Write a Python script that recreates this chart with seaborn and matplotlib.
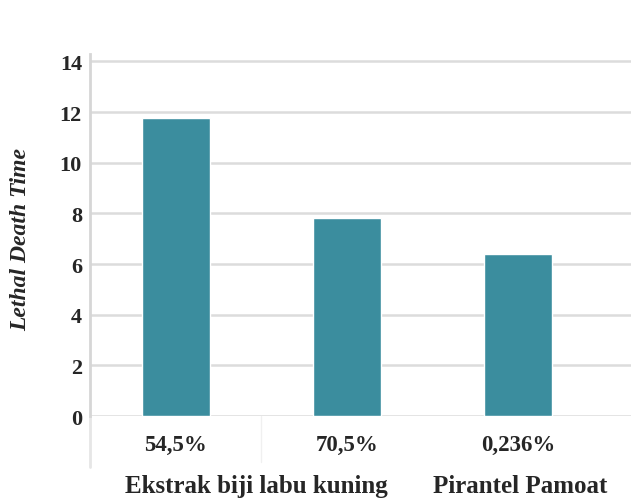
import pandas as pd
import matplotlib.pyplot as plt
import seaborn as sns

# Data
konsentrasi = ['54,5%', '70,5%', '0,236%']
ldt = [11.75, 7.8, 6.4]
kelompok = ['Ekstrak biji labu kuning', 'Pirantel Pamoat']

df = pd.DataFrame({'konsentrasi': konsentrasi, 'ldt': ldt})

sns.set_style('white')
plt.rcParams['font.family'] = ['Liberation Serif', 'DejaVu Serif']

fig = plt.figure(figsize=(6.31, 5.02), dpi=100)
ax = fig.add_axes([0.143, 0.169, 0.857, 0.722])

sns.barplot(data=df, x='konsentrasi', y='ldt', color='#3b8d9e', width=0.4,
            saturation=1, ax=ax, zorder=3)

ax.set_ylim(0, 14.3)
ax.set_xlim(-0.5, 2.66)
ax.set_yticks(range(0, 15, 2))
ax.grid(axis='y', color='#dcdcdc', linewidth=1.8, zorder=0)
ax.grid(axis='x', visible=False)

for s in ['top', 'right', 'bottom']:
    ax.spines[s].set_visible(False)
ax.spines['left'].set_color('#d6d6d6')
ax.spines['left'].set_linewidth(2)

ax.tick_params(axis='both', length=0)
ax.tick_params(axis='y', pad=6, labelsize=16)
ax.tick_params(axis='x', pad=13, labelsize=16.5)
for lbl in ax.get_xticklabels() + ax.get_yticklabels():
    lbl.set_fontweight('bold')

ax.set_xlabel('')
ax.set_ylabel('Lethal Death Time', fontsize=17, fontweight='bold', style='italic')
ax.yaxis.set_label_coords(-0.11, 0.49)

# faint separators below the axis
ax.plot([-0.5, -0.5], [0, -2.0], color='#e6e6e6', lw=2, clip_on=False, zorder=1)
ax.plot([0.5, 0.5], [0, -1.8], color='#f0f0f0', lw=1, clip_on=False, zorder=1)

# group labels
fig.text(0.407, 0.03, kelompok[0], ha='center', va='center', fontsize=18, fontweight='bold')
fig.text(0.825, 0.03, kelompok[1], ha='center', va='center', fontsize=18, fontweight='bold')

fig.savefig('out.png', dpi=100)
